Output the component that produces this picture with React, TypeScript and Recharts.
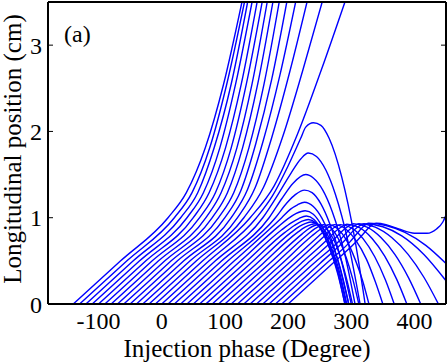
import React from 'react';
import { LineChart, Line, XAxis, YAxis } from 'recharts';

const serif = '"Liberation Serif", "Times New Roman", Times, "DejaVu Serif", "Noto Serif", serif';

const xTicks = [-100, 0, 100, 200, 300, 400];
const yTicks = [0, 1, 2, 3];

// [injection phase (deg), longitudinal position (cm)]
// electrons that leave the gun through the top of the plot
const acceleratedPaths = [
  [[-140, 0], [-65, 0.5], [10, 1.0], [39, 1.29], [69, 1.81], [98, 2.55], [127, 3.5]],
  [[-130, 0], [-55, 0.5], [20, 1.0], [48, 1.29], [76, 1.81], [103, 2.55], [131, 3.5]],
  [[-120, 0], [-45, 0.5], [30, 1.0], [57, 1.29], [83, 1.81], [110, 2.55], [136, 3.5]],
  [[-110, 0], [-35, 0.5], [40, 1.0], [66, 1.29], [92, 1.81], [117, 2.55], [143, 3.5]],
  [[-100, 0], [-25, 0.5], [50, 1.0], [75, 1.29], [101, 1.81], [126, 2.55], [151, 3.5]],
  [[-90, 0], [-15, 0.5], [60, 1.0], [85, 1.29], [110, 1.81], [134, 2.55], [159, 3.5]],
  [[-80, 0], [-5, 0.5], [70, 1.0], [94, 1.29], [119, 1.81], [143, 2.55], [167, 3.5]],
  [[-70, 0], [5, 0.5], [80, 1.0], [104, 1.29], [128, 1.81], [152, 2.55], [176, 3.5]],
  [[-60, 0], [15, 0.5], [90, 1.0], [114, 1.29], [138, 1.81], [162, 2.55], [186, 3.5]],
  [[-50, 0], [25, 0.5], [100, 1.0], [125, 1.31], [149, 1.86], [174, 2.6], [198, 3.5]],
  [[-40, 0], [35, 0.5], [110, 1.0], [136, 1.33], [161, 1.9], [187, 2.65], [212, 3.5]],
  [[-30, 0], [45, 0.5], [120, 1.0], [148, 1.35], [175, 1.95], [203, 2.7], [230, 3.5]],
  [[-20, 0], [55, 0.5], [130, 1.0], [161, 1.35], [192, 1.95], [223, 2.7], [254, 3.5]],
  [[-10, 0], [65, 0.5], [140, 1.0], [178, 1.37], [215, 1.97], [253, 2.72], [290, 3.5]],
];

// electrons that turn back quickly to the cathode
const reflectedPaths = [
  [[0, 0], [75, 0.5], [150, 1.0], [175, 1.25], [200, 1.6], [220, 1.92], [228, 2.05], [240, 2.1], [252, 2.07], [265, 1.92], [285, 1.47], [305, 0.78], [322, 0]],
  [[10, 0], [85, 0.5], [160, 1.0], [185, 1.28], [205, 1.52], [220, 1.68], [232, 1.75], [245, 1.71], [260, 1.55], [275, 1.27], [295, 0.72], [314, 0]],
  [[20, 0], [95, 0.5], [170, 1.0], [190, 1.22], [208, 1.4], [228, 1.5], [240, 1.46], [255, 1.32], [270, 1.07], [290, 0.57], [306, 0]],
  [[30, 0], [105, 0.5], [180, 1.0], [198, 1.17], [212, 1.27], [226, 1.32], [238, 1.29], [252, 1.16], [266, 0.93], [284, 0.51], [300, 0]],
  [[40, 0], [115, 0.5], [190, 1.0], [204, 1.1], [215, 1.15], [226, 1.18], [240, 1.13], [254, 0.99], [268, 0.76], [282, 0.42], [296, 0]],
  [[50, 0], [125, 0.5], [185, 0.9], [200, 0.99], [213, 1.05], [227, 1.08], [240, 1.04], [253, 0.91], [266, 0.7], [280, 0.41], [293, 0]],
  [[60, 0], [130, 0.467], [190, 0.86], [205, 0.94], [217, 0.99], [229, 1.02], [241, 0.98], [253, 0.86], [265, 0.665], [278, 0.39], [290, 0]],
  [[70, 0], [140, 0.467], [195, 0.83], [210, 0.91], [222, 0.96], [232, 0.98], [244, 0.94], [256, 0.81], [268, 0.6], [279, 0.34], [290, 0]],
  [[80, 0], [150, 0.467], [205, 0.83], [218, 0.9], [228, 0.935], [237, 0.95], [249, 0.905], [261, 0.77], [273, 0.54], [283, 0.29], [292, 0]],
  [[90, 0], [160, 0.467], [215, 0.83], [227, 0.89], [236, 0.92], [243, 0.93], [255, 0.88], [266, 0.755], [277, 0.55], [287, 0.29], [296, 0]],
  [[100, 0], [170, 0.467], [222, 0.81], [234, 0.88], [242, 0.91], [249, 0.92], [261, 0.87], [272, 0.75], [283, 0.54], [293, 0.28], [302, 0]],
  [[110, 0], [180, 0.467], [230, 0.8], [242, 0.87], [250, 0.905], [256, 0.92], [268, 0.88], [280, 0.75], [292, 0.54], [302, 0.3], [312, 0]],
  [[120, 0], [190, 0.467], [238, 0.79], [250, 0.86], [258, 0.9], [264, 0.92], [278, 0.876], [292, 0.745], [306, 0.52], [318, 0.27], [328, 0]],
];

// late electrons that drift along ~0.9 cm before falling back slowly
const latePaths = [
  [[130, 0], [200, 0.467], [246, 0.77], [258, 0.85], [266, 0.9], [273, 0.92], [290, 0.875], [307, 0.74], [324, 0.52], [338, 0.26], [350, 0]],
  [[140, 0], [210, 0.467], [255, 0.77], [268, 0.86], [276, 0.9], [283, 0.92], [301, 0.88], [319, 0.755], [337, 0.55], [354, 0.28], [368, 0]],
  [[150, 0], [220, 0.467], [264, 0.76], [278, 0.86], [286, 0.9], [293, 0.925], [313, 0.885], [333, 0.76], [353, 0.555], [372, 0.285], [388, 0]],
  [[160, 0], [230, 0.467], [273, 0.75], [288, 0.86], [296, 0.905], [303, 0.93], [325, 0.89], [347, 0.77], [369, 0.575], [391, 0.3], [410, 0]],
  [[170, 0], [240, 0.467], [282, 0.74], [297, 0.86], [305, 0.905], [312, 0.93], [338, 0.89], [364, 0.77], [390, 0.575], [415, 0.31], [438, 0]],
  [[180, 0], [250, 0.467], [290, 0.74], [305, 0.86], [313, 0.905], [320, 0.93], [350, 0.895], [380, 0.79], [415, 0.575], [450, 0.27]],
  [[190, 0], [260, 0.467], [298, 0.72], [313, 0.85], [321, 0.91], [327, 0.935], [355, 0.91], [385, 0.83], [418, 0.68], [450, 0.47]],
  [[200, 0], [270, 0.467], [305, 0.7], [320, 0.82], [330, 0.9], [340, 0.935], [355, 0.92], [375, 0.87], [400, 0.82], [420, 0.82], [435, 0.87], [445, 0.95], [450, 1.03]],
];

const paths = [...acceleratedPaths, ...reflectedPaths, ...latePaths].map((p) =>
  p.map(([x, z]) => ({ x, z }))
);

const tickFont = { fill: '#000', fontSize: 24, fontFamily: serif };
const frame = { stroke: '#000', strokeWidth: 2 };
const noLabel = () => <g />;

export default function App() {
  return (
    <div style={{ position: 'absolute', left: 0, top: 0, width: 448, height: 362, background: '#fff', fontFamily: serif }}>
      <LineChart width={448} height={362} margin={{ top: 2, right: 2, bottom: 0, left: 0 }} style={{ fontFamily: serif }}>
        <XAxis
          xAxisId="x"
          type="number"
          dataKey="x"
          domain={[-180, 450]}
          ticks={xTicks}
          interval={0}
          allowDataOverflow
          height={58}
          tickLine={false}
          tickSize={0}
          tickMargin={8}
          axisLine={frame}
          tick={tickFont}
          label={{
            value: 'Injection phase (Degree)',
            position: 'insideBottom',
            offset: 5,
            style: { fill: '#000', fontSize: 25, fontFamily: serif },
          }}
        />
        <XAxis xAxisId="xb" type="number" orientation="bottom" mirror domain={[-180, 450]} ticks={xTicks} interval={0}
          allowDataOverflow tickSize={5} tickLine={{ stroke: '#000' }} axisLine={false} tick={noLabel} />
        <XAxis xAxisId="xt" type="number" orientation="top" mirror domain={[-180, 450]} ticks={xTicks} interval={0}
          allowDataOverflow tickSize={5} tickLine={{ stroke: '#000' }} axisLine={frame} tick={noLabel} />
        <YAxis
          yAxisId="y"
          type="number"
          domain={[0, 3.5]}
          ticks={yTicks}
          interval={0}
          allowDataOverflow
          width={48}
          tickLine={false}
          tickSize={0}
          tickMargin={6}
          axisLine={frame}
          tick={tickFont}
          label={{
            value: 'Longitudinal position (cm)',
            angle: -90,
            position: 'center',
            dx: -12,
            dy: -4,
            style: { fill: '#000', fontSize: 25, fontFamily: serif },
          }}
        />
        <YAxis yAxisId="yl" type="number" orientation="left" mirror domain={[0, 3.5]} ticks={yTicks} interval={0}
          allowDataOverflow tickSize={5} tickLine={{ stroke: '#000' }} axisLine={false} tick={noLabel} />
        <YAxis yAxisId="yr" type="number" orientation="right" mirror domain={[0, 3.5]} ticks={yTicks} interval={0}
          allowDataOverflow tickSize={5} tickLine={{ stroke: '#000' }} axisLine={frame} tick={noLabel} />
        {paths.map((d, i) => (
          <Line
            key={i}
            data={d}
            dataKey="z"
            xAxisId="x"
            yAxisId="y"
            type="monotone"
            dot={false}
            activeDot={false}
            stroke="#0000ff"
            strokeWidth={1.4}
            isAnimationActive={false}
          />
        ))}
      </LineChart>
      <div
        style={{
          position: 'absolute',
          left: 64,
          top: 22,
          fontFamily: serif,
          fontSize: 24,
          lineHeight: '24px',
          color: '#000',
        }}
      >
        (a)
      </div>
    </div>
  );
}
